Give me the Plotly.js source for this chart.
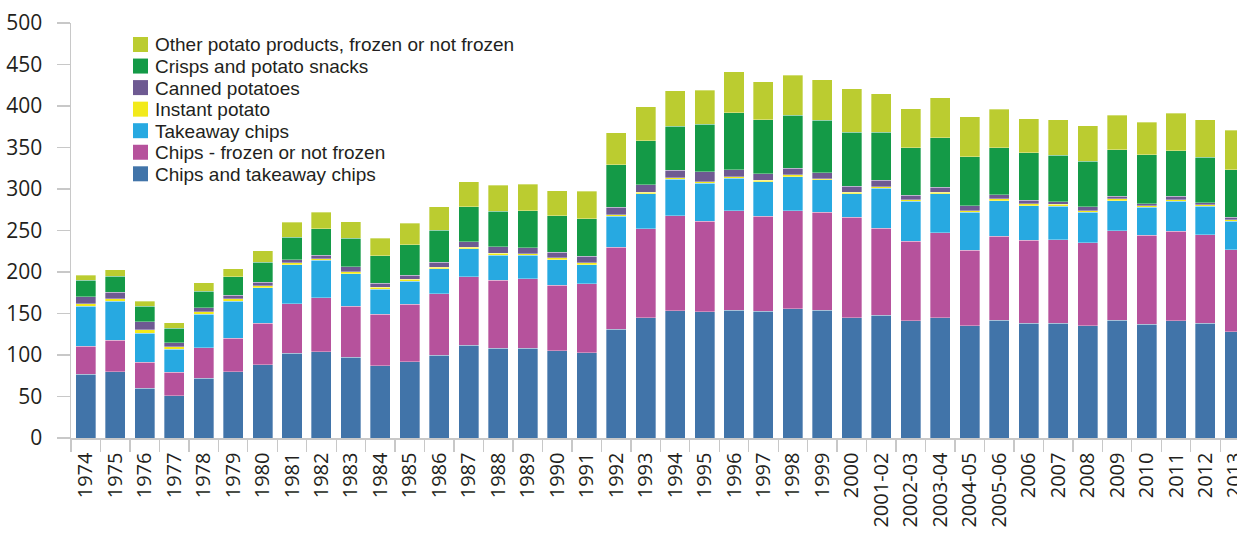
<!DOCTYPE html>
<html><head><meta charset="utf-8">
<script src="https://cdn.plot.ly/plotly-3.0.1.min.js"></script>
<style>html,body{margin:0;padding:0;background:#fff;}#chart{width:1237px;height:535px;}</style>
</head><body><div id="chart"></div>
<script>
const categories = ["1974","1975","1976","1977","1978","1979","1980","1981","1982","1983","1984","1985","1986","1987","1988","1989","1990","1991","1992","1993","1994","1995","1996","1997","1998","1999","2000","2001-02","2002-03","2003-04","2004-05","2005-06","2006","2007","2008","2009","2010","2011","2012","2013"];
const chipsTakeaway = [77,80,60,51,72,80,88,102,104,97,87,92,100,112,108,108,105,103,131,145,153.5,152,154,153,156,154,145,148,141,145,135,142,138,138,135,142,137,141,138,128];
const chipsFrozen   = [33.5,38,31,28,37,40,50,60,65,62,62,69,74,82,82,84,79,83,99,107,114,109,120,114,118,118,121,105,96,102,91,101,100,101,100,108,107,108,107,99];
const takeawayChips = [48.5,47,35,28,40,45,43,47,45,39,30,28,30,34,30,28,31,23,37,42,44,46,39,42,41,39,28,48,48,47,46,43,42,40.5,37,36,34,36,34,34];
const instantPotato = [3,2.5,4.6,3,3,3,2.5,2,2,2.5,2.5,2,2,2,2.4,2,2,2,2,2,2,2,2,1.5,2.4,1.6,2,1.6,2,2,2,2,2,2,2,2,2,2,2,2];
const cannedPotatoes= [8,8,9.4,5,5,4,4,4,4,6,5,5,6,6.5,8,7,7,8,9,9,9,12,8,8,7.6,7,7.6,8,5.6,6,6,5,4.4,3,4.5,3,2.4,4,2.4,3];
const crispsSnacks  = [20,19.5,19,17,20,22,24,27,32,34,33,37,38.5,42,43,45,44,45,51.5,53,53,57,69,65,64,63,65,58,57,60,59,57,57,56,55,56,59,55,55,57];
const otherProducts = [6,8,6,7,10,10,14,18,20,20,21,26,28,30,31,32,30,33,38,41,43,41,49,46,48,49,52,46,47,48,48,46,41,43,43,42,39,45,45,48];

const seriesNames = ["Chips and takeaway chips","Chips - frozen or not frozen","Takeaway chips","Instant potato","Canned potatoes","Crisps and potato snacks","Other potato products, frozen or not frozen"];
const seriesData = [chipsTakeaway, chipsFrozen, takeawayChips, instantPotato, cannedPotatoes, crispsSnacks, otherProducts];
const seriesColors = ["#4174a9","#b6529c","#27a9e1","#f2ea1b","#6e5a92","#149a47","#bbcc30"];

const traces = seriesNames.map((n,i)=>({
  type:"bar", name:n, x:categories, y:seriesData[i],
  marker:{color:seriesColors[i], line:{color:"rgba(255,255,255,0.55)", width:0.6}},
  hoverinfo:"x+y+name", showlegend:false
}));

// Custom legend (top item = last series), drawn with shapes + text annotations
const W = 1237, H = 535, M = {l:71, r:0, t:23, b:97};
const pw = W - M.l - M.r, ph = H - M.t - M.b;
const px = v => (v - M.l) / pw, py = v => 1 - (v - M.t) / ph;
const shapes = [], annotations = [];
const order = seriesNames.map((_,i)=>i).reverse();
order.forEach((si, k) => {
  const cy = 44.5 + k * 21.55;
  shapes.push({type:"rect", xref:"paper", yref:"paper", x0:px(133), x1:px(148), y0:py(cy-7.5), y1:py(cy+7.5),
               fillcolor:seriesColors[si], line:{width:0}, layer:"above"});
  annotations.push({xref:"paper", yref:"paper", x:px(153), y:py(cy+0.5), xanchor:"left", yanchor:"middle",
                    text:seriesNames[si], showarrow:false,
                    font:{family:"Liberation Sans, Arial, sans-serif", size:19, color:"#231f20"}});
});

const layout = {
  width:W, height:H,
  margin:M,
  barmode:"stack", bargap:0.32,
  paper_bgcolor:"#fff", plot_bgcolor:"#fff",
  font:{family:"Open Sans, sans-serif", color:"#231f20"},
  showlegend:false,
  shapes, annotations,
  xaxis:{type:"category", range:[-0.5,39.07], tickangle:-90, tickson:"boundaries",
         ticks:"outside", ticklen:12, tickcolor:"#c8c8c8", tickwidth:1.3,
         showline:true, linecolor:"#c8c8c8", linewidth:1.5, showgrid:false,
         tickfont:{size:20, color:"#231f20"}, ticklabelstandoff:5, fixedrange:true},
  yaxis:{range:[0,500], dtick:50, ticks:"outside", ticklen:13, tickcolor:"#c8c8c8", tickwidth:1.3,
         showline:true, linecolor:"#c8c8c8", linewidth:1.5, showgrid:false, zeroline:false,
         tickfont:{size:21, color:"#231f20"}, ticklabelstandoff:10, fixedrange:true}
};
Plotly.newPlot("chart", traces, layout, {displayModeBar:false, staticPlot:true});
</script></body></html>
